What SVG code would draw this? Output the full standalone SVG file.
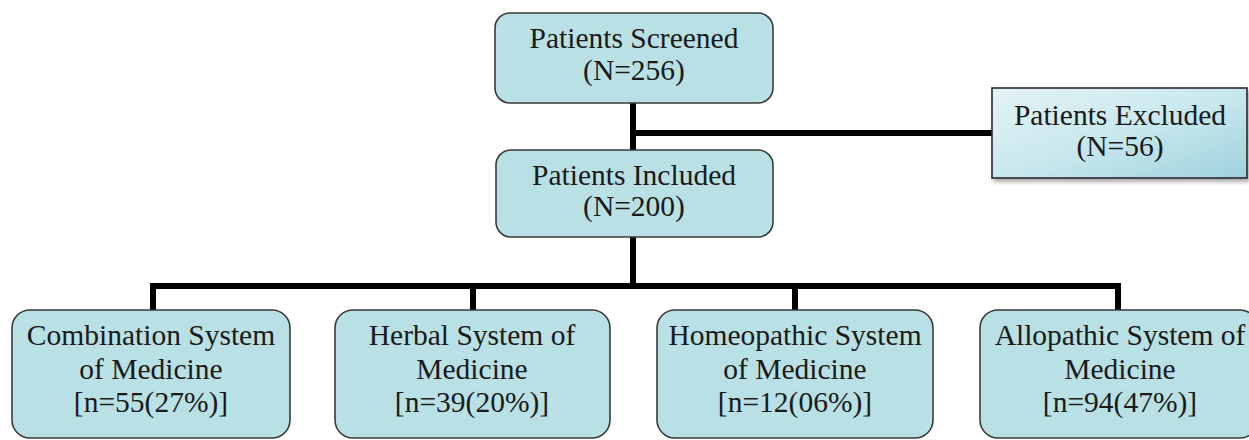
<svg xmlns="http://www.w3.org/2000/svg" width="1249" height="440" viewBox="0 0 1249 440">
<style>
.box{fill:#b9e0e4;stroke:#3a3a3a;stroke-width:1.6}
.t{font-family:"Liberation Serif","Times New Roman",serif;font-size:29.5px;fill:#1a1a1a;text-anchor:middle}
.c{stroke:#000;stroke-width:6;fill:none}
</style>
<defs>
<linearGradient id="g" x1="0" y1="0" x2="1" y2="1">
<stop offset="0" stop-color="#e4f3f6"/>
<stop offset="0.5" stop-color="#c9e8ee"/>
<stop offset="1" stop-color="#9fd2dc"/>
</linearGradient>
<filter id="sh" x="-10%" y="-10%" width="130%" height="130%">
<feDropShadow dx="2" dy="3" stdDeviation="2" flood-color="#000" flood-opacity="0.35"/>
</filter>
</defs>
<rect width="1249" height="440" fill="#fff"/>
<g id="connectors">
<path class="c" d="M633 103V237M633 133H993M633 237V286M150 286H1118M153 283V310M473 283V310M795 283V310M1118 283V310"/>
</g>
<g id="screened">
<rect class="box" x="495" y="13" width="278" height="90" rx="15"/>
<text class="t" x="634" y="48">Patients Screened</text>
<text class="t" x="634" y="80">(N=256)</text>
</g>
<g id="included">
<rect class="box" x="496" y="150" width="277" height="87" rx="15"/>
<text class="t" x="634" y="185">Patients Included</text>
<text class="t" x="634" y="216">(N=200)</text>
</g>
<g id="excluded">
<rect x="992" y="88" width="255" height="90" fill="url(#g)" stroke="#2a2a2a" stroke-width="1.6" filter="url(#sh)"/>
<text class="t" x="1120" y="125">Patients Excluded</text>
<text class="t" x="1120" y="156">(N=56)</text>
</g>
<g id="combination">
<rect class="box" x="12" y="310" width="278" height="128" rx="18"/>
<text class="t" x="151" y="345">Combination System</text>
<text class="t" x="151" y="379">of Medicine</text>
<text class="t" x="151" y="412">[n=55(27%)]</text>
</g>
<g id="herbal">
<rect class="box" x="335" y="310" width="275" height="128" rx="18"/>
<text class="t" x="472" y="345">Herbal System of</text>
<text class="t" x="472" y="379">Medicine</text>
<text class="t" x="472" y="412">[n=39(20%)]</text>
</g>
<g id="homeopathic">
<rect class="box" x="657" y="310" width="276" height="128" rx="18"/>
<text class="t" x="795" y="345">Homeopathic System</text>
<text class="t" x="795" y="379">of Medicine</text>
<text class="t" x="795" y="412">[n=12(06%)]</text>
</g>
<g id="allopathic">
<rect class="box" x="980" y="310" width="278" height="128" rx="18"/>
<text class="t" x="1120" y="345">Allopathic System of</text>
<text class="t" x="1120" y="379">Medicine</text>
<text class="t" x="1120" y="412">[n=94(47%)]</text>
</g>
</svg>
